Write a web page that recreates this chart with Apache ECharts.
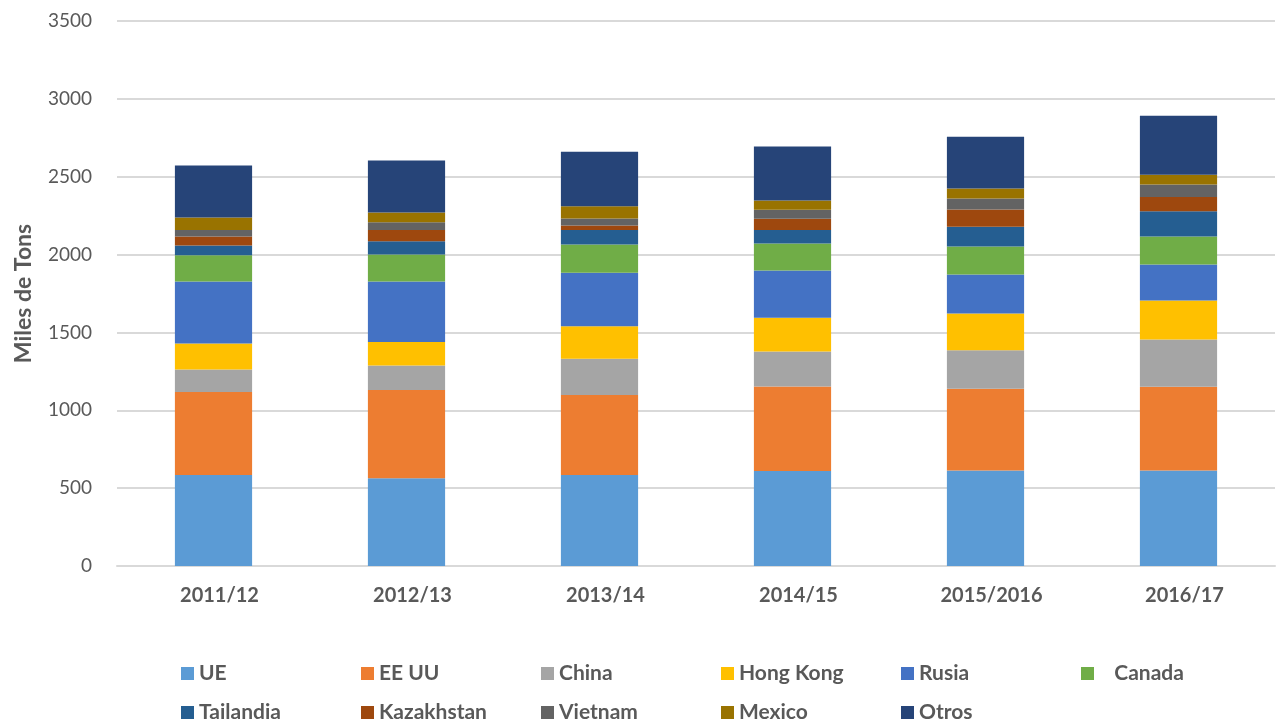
<!DOCTYPE html>
<html>
<head>
<meta charset="utf-8">
<script src="https://cdn.jsdelivr.net/npm/echarts@6/dist/echarts.min.js"></script>
<style>
  html, body { margin: 0; padding: 0; background: #fff; }
  #chart { width: 1285px; height: 725px; }
</style>
</head>
<body>
<div id="chart"></div>
<script>
// campañas
const categories = ['2011/12', '2012/13', '2013/14', '2014/15', '2015/2016', '2016/17'];

// miles de toneladas por destino
const ue         = [584, 563, 584, 610, 614, 614];
const eeuu       = [533, 567, 514, 543, 525, 537];
const china      = [145, 158, 233, 225, 247, 304];
const hongKong   = [167, 150, 208, 216, 236, 250];
const rusia      = [398, 389, 344, 304, 250, 231];
const canada     = [169, 173, 182, 173, 180, 180];
const tailandia  = [62, 86, 92, 86, 126, 163];
const kazakhstan = [58, 71, 30, 73, 111, 90];
const vietnam    = [41, 51, 45, 58, 71, 81];
const mexico     = [81, 62, 79, 59, 64, 62];
const otros      = [334, 334, 349, 347, 332, 380];

const yTicks = [0, 500, 1000, 1500, 2000, 2500, 3000, 3500];

const seriesList = [
    { name: 'UE', data: ue, color: '#5B9BD5' },
    { name: 'EE UU', data: eeuu, color: '#ED7D31' },
    { name: 'China', data: china, color: '#A5A5A5' },
    { name: 'Hong Kong', data: hongKong, color: '#FFC000' },
    { name: 'Rusia', data: rusia, color: '#4472C4' },
    { name: 'Canada', data: canada, color: '#70AD47' },
    { name: 'Tailandia', data: tailandia, color: '#255E91' },
    { name: 'Kazakhstan', data: kazakhstan, color: '#9E480E' },
    { name: 'Vietnam', data: vietnam, color: '#636363' },
    { name: 'Mexico', data: mexico, color: '#997300' },
    { name: 'Otros', data: otros, color: '#264478' }
];

const font = 'Lato, "Open Sans", sans-serif';
const myChart = echarts.init(document.getElementById('chart'));

myChart.setOption({
    animation: false,
    backgroundColor: '#ffffff',
    grid: {
        left: 117,
        right: 10,
        top: 21,
        bottom: 159
    },
    legend: {
        data: seriesList.map(s => s.name),
        left: 181,
        top: 654,
        width: 1095,
        padding: 0,
        itemWidth: 13,
        itemHeight: 13,
        itemGap: 0,
        icon: 'rect',
        formatter: function (name) {
            return name === 'Canada' ? '   ' + name : name;
        },
        textStyle: {
            color: '#595959',
            fontFamily: font,
            fontWeight: 'bold',
            fontSize: 21,
            width: 162,
            lineHeight: 39
        }
    },
    xAxis: {
        type: 'category',
        data: categories,
        axisTick: { show: false },
        axisLine: { lineStyle: { color: '#d9d9d9', width: 2 } },
        axisLabel: {
            color: '#595959',
            fontFamily: font,
            fontWeight: 'bold',
            fontSize: 20,
            margin: 20,
            padding: [0, 0, 0, 12]
        }
    },
    yAxis: {
        type: 'value',
        min: yTicks[0],
        max: yTicks[yTicks.length - 1],
        interval: 500,
        name: 'Miles de Tons',
        nameLocation: 'middle',
        nameGap: 82,
        nameTextStyle: {
            color: '#595959',
            fontFamily: font,
            fontWeight: 'bold',
            fontSize: 23
        },
        axisLine: { show: false },
        axisTick: { show: false },
        axisLabel: {
            color: '#595959',
            fontFamily: font,
            fontSize: 19,
            margin: 25,
            formatter: function (v) { return String(v); }
        },
        splitLine: { lineStyle: { color: '#d9d9d9', width: 2 } }
    },
    series: seriesList.map(s => ({
        name: s.name,
        type: 'bar',
        stack: 'total',
        data: s.data,
        barWidth: '40%',
        itemStyle: { color: s.color }
    }))
});
</script>
</body>
</html>
